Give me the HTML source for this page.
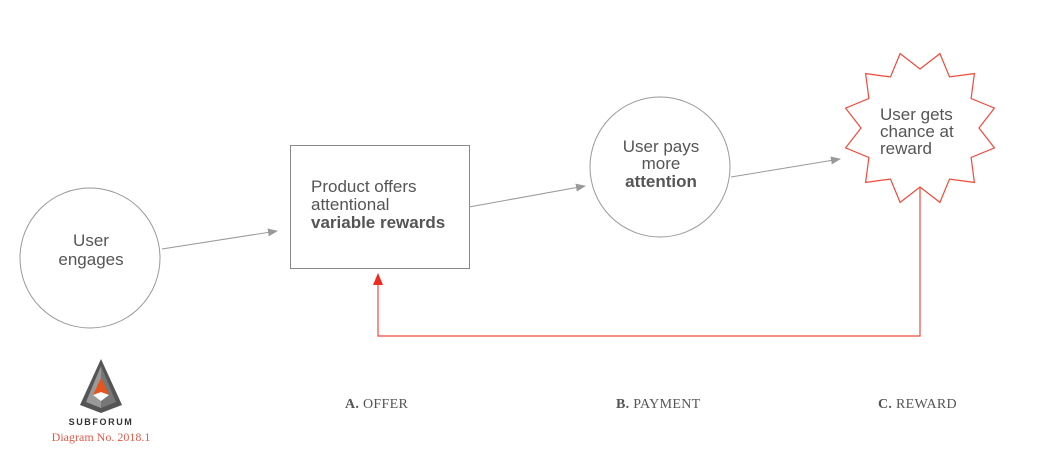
<!DOCTYPE html>
<html><head><meta charset="utf-8"><style>
html,body{margin:0;padding:0;background:#fff;}
svg{display:block;}
.t{font-family:"Liberation Sans",sans-serif;font-size:17px;fill:#555;}
.b{font-weight:bold;}
.s{font-family:"Liberation Serif",serif;font-size:14px;fill:#555;letter-spacing:0.3px;}
</style></head><body>
<svg width="1045" height="464" viewBox="0 0 1045 464" xmlns="http://www.w3.org/2000/svg">
<defs>
<marker id="ag" markerWidth="10" markerHeight="8" refX="9" refY="4" orient="auto" markerUnits="userSpaceOnUse"><path d="M0,0 L10,4 L0,8 z" fill="#999"/></marker>
</defs>
<circle cx="90" cy="258" r="70" fill="none" stroke="#999" stroke-width="1"/>
<text class="t" text-anchor="middle"><tspan x="91" y="246">User</tspan><tspan x="91" y="265">engages</tspan></text>
<rect x="290.5" y="145.5" width="179" height="123" fill="none" stroke="#888" stroke-width="1"/>
<text class="t"><tspan x="311" y="192">Product offers</tspan><tspan x="311" y="210">attentional</tspan><tspan x="311" y="228" class="b">variable rewards</tspan></text>
<circle cx="660" cy="167" r="70" fill="none" stroke="#999" stroke-width="1"/>
<text class="t" text-anchor="middle"><tspan x="661" y="152">User pays</tspan><tspan x="661" y="169">more</tspan><tspan x="661" y="187" class="b">attention</tspan></text>
<polygon fill="none" stroke="#f04a3a" stroke-width="1.2" points="920,69 939.9,53.6 949.5,76.9 974.4,73.6 971.1,98.5 994.4,108.1 979,128 994.4,147.9 971.1,157.5 974.4,182.4 949.5,179.1 939.9,202.4 920,187 900.1,202.4 890.5,179.1 865.6,182.4 868.9,157.5 845.6,147.9 861,128 845.6,108.1 868.9,98.5 865.6,73.6 890.5,76.9 900.1,53.6"/>
<text class="t"><tspan x="880" y="120">User gets</tspan><tspan x="880" y="137">chance at</tspan><tspan x="880" y="154">reward</tspan></text>
<line x1="162" y1="249" x2="277" y2="231" stroke="#999" stroke-width="1" marker-end="url(#ag)"/>
<line x1="469" y1="207" x2="585" y2="186" stroke="#999" stroke-width="1" marker-end="url(#ag)"/>
<line x1="731" y1="177" x2="840" y2="159" stroke="#999" stroke-width="1" marker-end="url(#ag)"/>
<polyline points="920,187 920,336 378,336 378,284" fill="none" stroke="#f04a3a" stroke-width="1.2"/>
<path d="M373,285 L378,273 L383,285 z" fill="#f02a20"/>
<g>
<path d="M101,359 L80,405 L101,413 L122,405 z" fill="#555"/>
<path d="M101,366 L86,402 L101,408 z" fill="#999"/>
<path d="M101,366 L116,402 L101,408 z" fill="#777"/>
<path d="M101,378 L93,395 L109,395 z" fill="#e8541e"/>
<path d="M93,395 L101,401 L109,395 L101,392 z" fill="#fff"/>
</g>
<text x="101" y="425" text-anchor="middle" style="font-family:'Liberation Sans',sans-serif;font-size:9px;font-weight:bold;letter-spacing:1.6px;fill:#333;">SUBFORUM</text>
<text x="101" y="441" text-anchor="middle" style="font-family:'Liberation Serif',serif;font-size:12px;fill:#e05a4a;">Diagram No. 2018.1</text>
<text class="s" x="345" y="408"><tspan style="font-weight:bold">A.</tspan> OFFER</text>
<text class="s" x="616" y="408"><tspan style="font-weight:bold">B.</tspan> PAYMENT</text>
<text class="s" x="878" y="408"><tspan style="font-weight:bold">C.</tspan> REWARD</text>
</svg>
</body></html>
